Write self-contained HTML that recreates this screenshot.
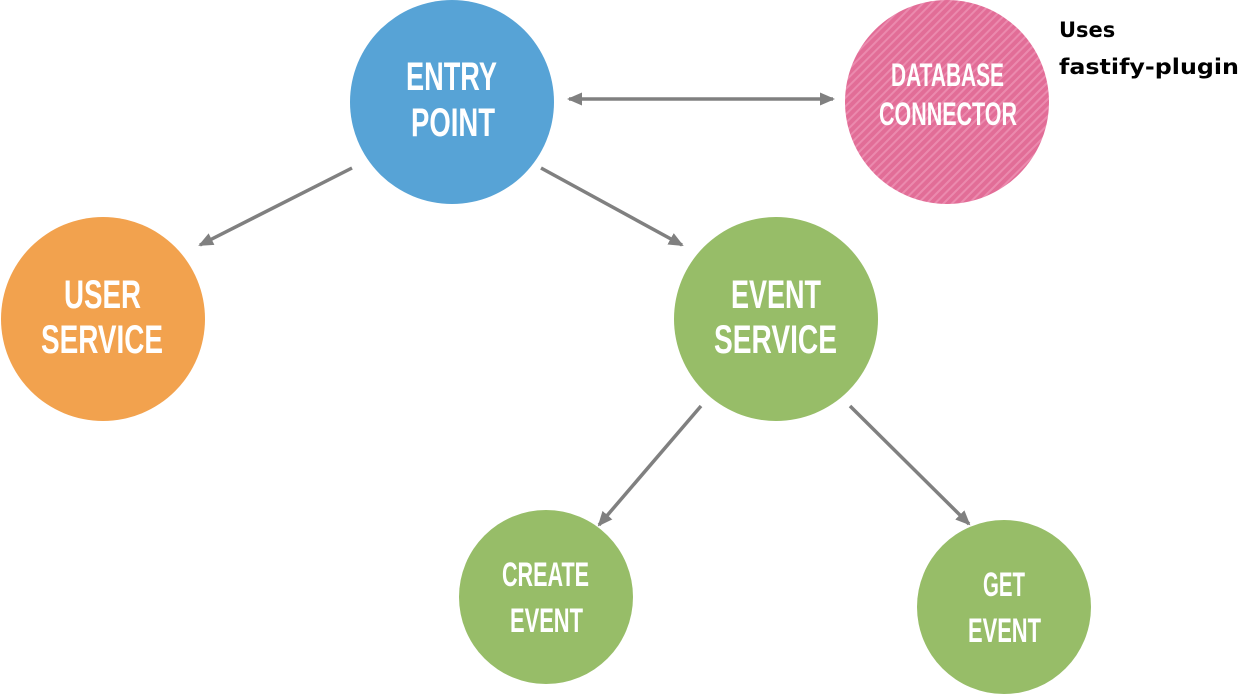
<!DOCTYPE html>
<html><head><style>html,body{margin:0;padding:0;background:#fff;}</style></head>
<body>
<svg width="1243" height="695" xmlns="http://www.w3.org/2000/svg">
<defs>
<marker id="ah" markerWidth="15" markerHeight="13" refX="13" refY="6.5" orient="auto-start-reverse" markerUnits="userSpaceOnUse" viewBox="0 0 15 13">
<path d="M0,0 L15,6.5 L0,13 z" fill="#808080"/></marker>
<pattern id="st" width="6" height="6" patternUnits="userSpaceOnUse" patternTransform="rotate(45)">
<rect width="6" height="6" fill="#e26d97"/><rect width="2" height="6" fill="#eb8aae"/></pattern>
</defs>
<g stroke="#808080" stroke-width="3.5" fill="none">
<line x1="569" y1="99" x2="833" y2="99" marker-start="url(#ah)" marker-end="url(#ah)"/>
<line x1="352" y1="168" x2="200" y2="245" marker-end="url(#ah)"/>
<line x1="541" y1="168" x2="682" y2="245" marker-end="url(#ah)"/>
<line x1="701" y1="406" x2="599" y2="525" marker-end="url(#ah)"/>
<line x1="850" y1="406" x2="969" y2="524" marker-end="url(#ah)"/>
</g>
<circle cx="452" cy="102" r="102" fill="#57a3d6"/>
<circle cx="947" cy="102" r="102" fill="url(#st)"/>
<circle cx="103" cy="319" r="102" fill="#f2a24e"/>
<circle cx="776" cy="319" r="102" fill="#97bd68"/>
<circle cx="546" cy="597" r="87" fill="#97bd68"/>
<circle cx="1004" cy="607" r="87" fill="#97bd68"/>
<g fill="#fff" font-family="'Liberation Sans Narrow','Liberation Sans',sans-serif" font-weight="bold">
<text x="406" y="90" font-size="40" textLength="91" lengthAdjust="spacingAndGlyphs">ENTRY</text>
<text x="411" y="136" font-size="40" textLength="84" lengthAdjust="spacingAndGlyphs">POINT</text>
<text x="891" y="86" font-size="32" textLength="113" lengthAdjust="spacingAndGlyphs">DATABASE</text>
<text x="879" y="125" font-size="32" textLength="138" lengthAdjust="spacingAndGlyphs">CONNECTOR</text>
<text x="64" y="308" font-size="40" textLength="77" lengthAdjust="spacingAndGlyphs">USER</text>
<text x="41" y="353" font-size="40" textLength="122" lengthAdjust="spacingAndGlyphs">SERVICE</text>
<text x="731" y="308" font-size="40" textLength="90" lengthAdjust="spacingAndGlyphs">EVENT</text>
<text x="714" y="353" font-size="40" textLength="123" lengthAdjust="spacingAndGlyphs">SERVICE</text>
<text x="502" y="586" font-size="34" textLength="87" lengthAdjust="spacingAndGlyphs">CREATE</text>
<text x="510" y="632" font-size="34" textLength="73" lengthAdjust="spacingAndGlyphs">EVENT</text>
<text x="983" y="596" font-size="34" textLength="42" lengthAdjust="spacingAndGlyphs">GET</text>
<text x="968" y="642" font-size="34" textLength="73" lengthAdjust="spacingAndGlyphs">EVENT</text>
</g>
<g fill="#000" font-family="'DejaVu Sans',sans-serif" font-weight="bold" font-size="21">
<text x="1059" y="37">Uses</text>
<text x="1059" y="74" textLength="180" lengthAdjust="spacingAndGlyphs">fastify-plugin</text>
</g>
</svg>
</body></html>
